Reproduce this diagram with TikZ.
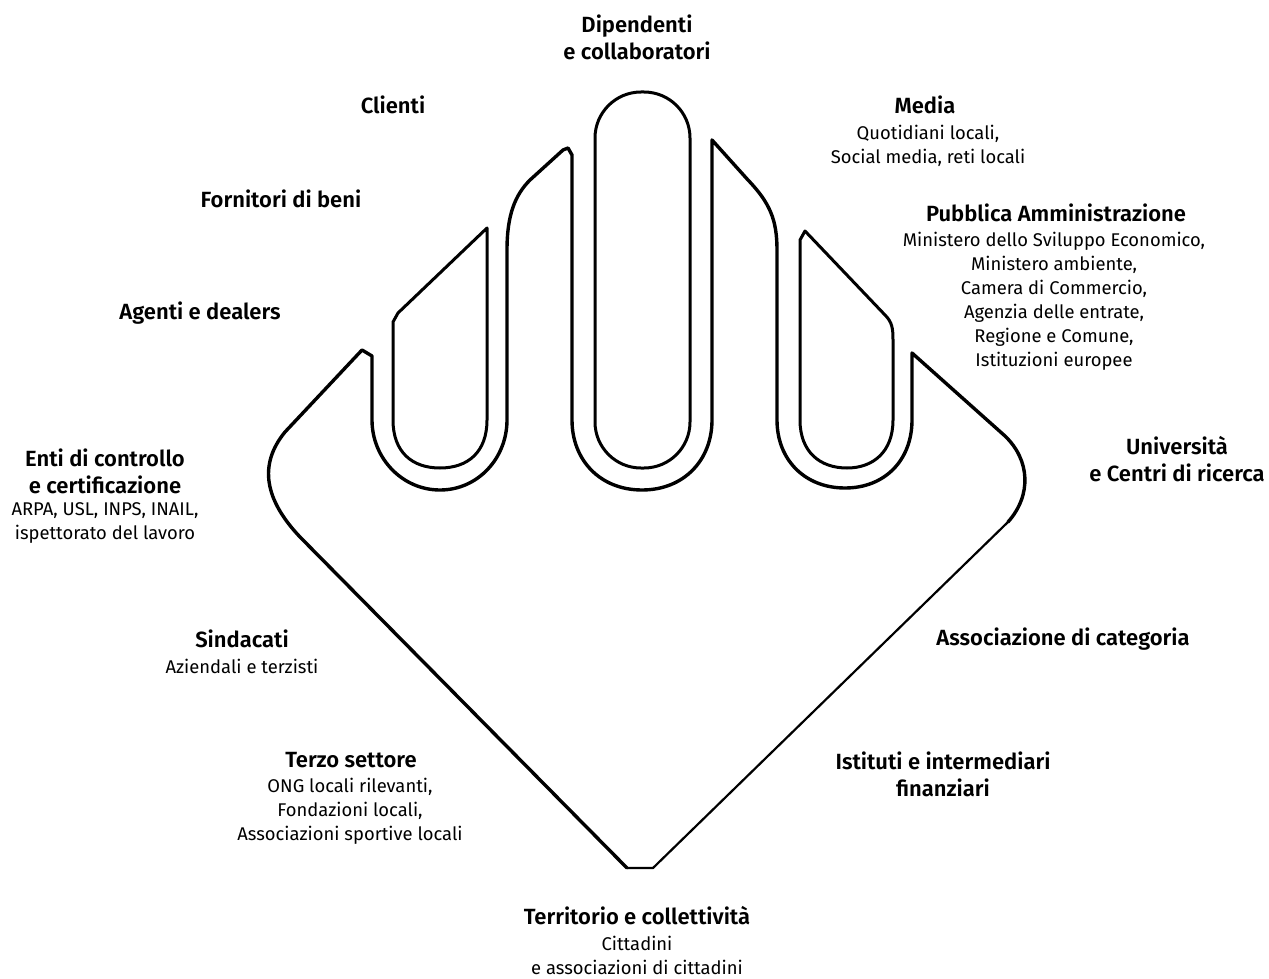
\documentclass[tikz,border=0pt]{standalone}
\usepackage{fontspec}
\setmainfont{Fira Sans}[BoldFont={Fira Sans SemiBold}]
\tikzset{
  outline/.style={line width=3.4pt, line join=round, line cap=round},
  thinline/.style={line width=2.2pt, line join=round, line cap=round},
  finger/.style={line width=3pt, line join=round, line cap=round},
  ttl/.style={align=center, inner sep=0pt, font=\fontsize{22}{27}\selectfont\bfseries},
  dtl/.style={align=center, inner sep=0pt, font=\fontsize{18.4}{24}\selectfont},
}
\begin{document}
\begin{tikzpicture}[x=1pt,y=-1pt]
\useasboundingbox (0,0) rectangle (1269,979);
% outer outline
\draw[outline] (300,537) .. controls (265,500) and (258,465) .. (285,432)
  -- (362,350) -- (372,356) -- (372,420)
  .. controls (372,458) and (402,490) .. (440,490)
  .. controls (478,490) and (507,458) .. (507,420)
  -- (507,250) .. controls (507,215) and (515,195) .. (530,180)
  -- (563,150) -- (568,148) -- (572,155) -- (572,420)
  .. controls (572,460) and (600,490) .. (642,490)
  .. controls (684,490) and (712,460) .. (712,420)
  -- (712,140) -- (748,180) .. controls (770,203) and (777,220) .. (777,250)
  -- (777,420) .. controls (777,460) and (805,488) .. (845,488)
  .. controls (885,488) and (912,460) .. (912,420)
  -- (912,353) -- (1005,436) .. controls (1030,460) and (1032,495) .. (1008,522);
\draw[thinline] (1008,522) -- (653,868) -- (627,868);
\draw[outline] (627,868) -- (300,537);
% inner fingers
\draw[finger] (393,322) -- (393,420) .. controls (393,452) and (412,468) .. (440,468)
  .. controls (468,468) and (487,452) .. (487,420) -- (487,228) -- (398,313) -- cycle;
\draw[finger, rounded corners=46pt] (595,92) rectangle (690,468);
\draw[finger] (800,240) -- (805,231) -- (885,315) .. controls (892,322) and (893,328) .. (893,340)
  -- (893,420) .. controls (893,452) and (873,468) .. (847,468)
  .. controls (820,468) and (800,452) .. (800,420) -- cycle;
% labels
\node[ttl] (dip) at (637,37) {Dipendenti\\e collaboratori};
\node[ttl] (cli) at (393,105) {Clienti};
\node[ttl] (med) at (925,105) {Media};
\node[dtl] (medd) at (928,145.5) {Quotidiani locali,\\Social media, reti locali};
\node[ttl] (forn) at (281,199) {Fornitori di beni};
\node[ttl] (pa) at (1056,213) {Pubblica Amministrazione};
\node[dtl] (pad) at (1054,301) {Ministero dello Sviluppo Economico,\\Ministero ambiente,\\Camera di Commercio,\\Agenzia delle entrate,\\Regione e Comune,\\Istituzioni europee};
\node[ttl] (age) at (200,313) {Agenti e dealers};
\node[ttl] (uni) at (1177,459) {Università\\e Centri di ricerca};
\node[ttl] (enti) at (105,471.5) {Enti di controllo\\e certificazione};
\node[dtl] (entid) at (105,523) {ARPA, USL, INPS, INAIL,\\ispettorato del lavoro};
\node[ttl] (sin) at (242,639) {Sindacati};
\node[dtl] (sind) at (242,666) {Aziendali e terzisti};
\node[ttl] (ass) at (1063,639) {Associazione di categoria};
\node[ttl] (ter) at (351,760) {Terzo settore};
\node[dtl] (terd) at (350,811.5) {ONG locali rilevanti,\\Fondazioni locali,\\Associazioni sportive locali};
\node[ttl] (ist) at (943,774) {Istituti e intermediari\\finanziari};
\node[ttl] (terr) at (637,916) {Territorio e collettività};
\node[dtl] (terrd) at (637,955.5) {Cittadini\\e associazioni di cittadini};
\end{tikzpicture}
\end{document}
